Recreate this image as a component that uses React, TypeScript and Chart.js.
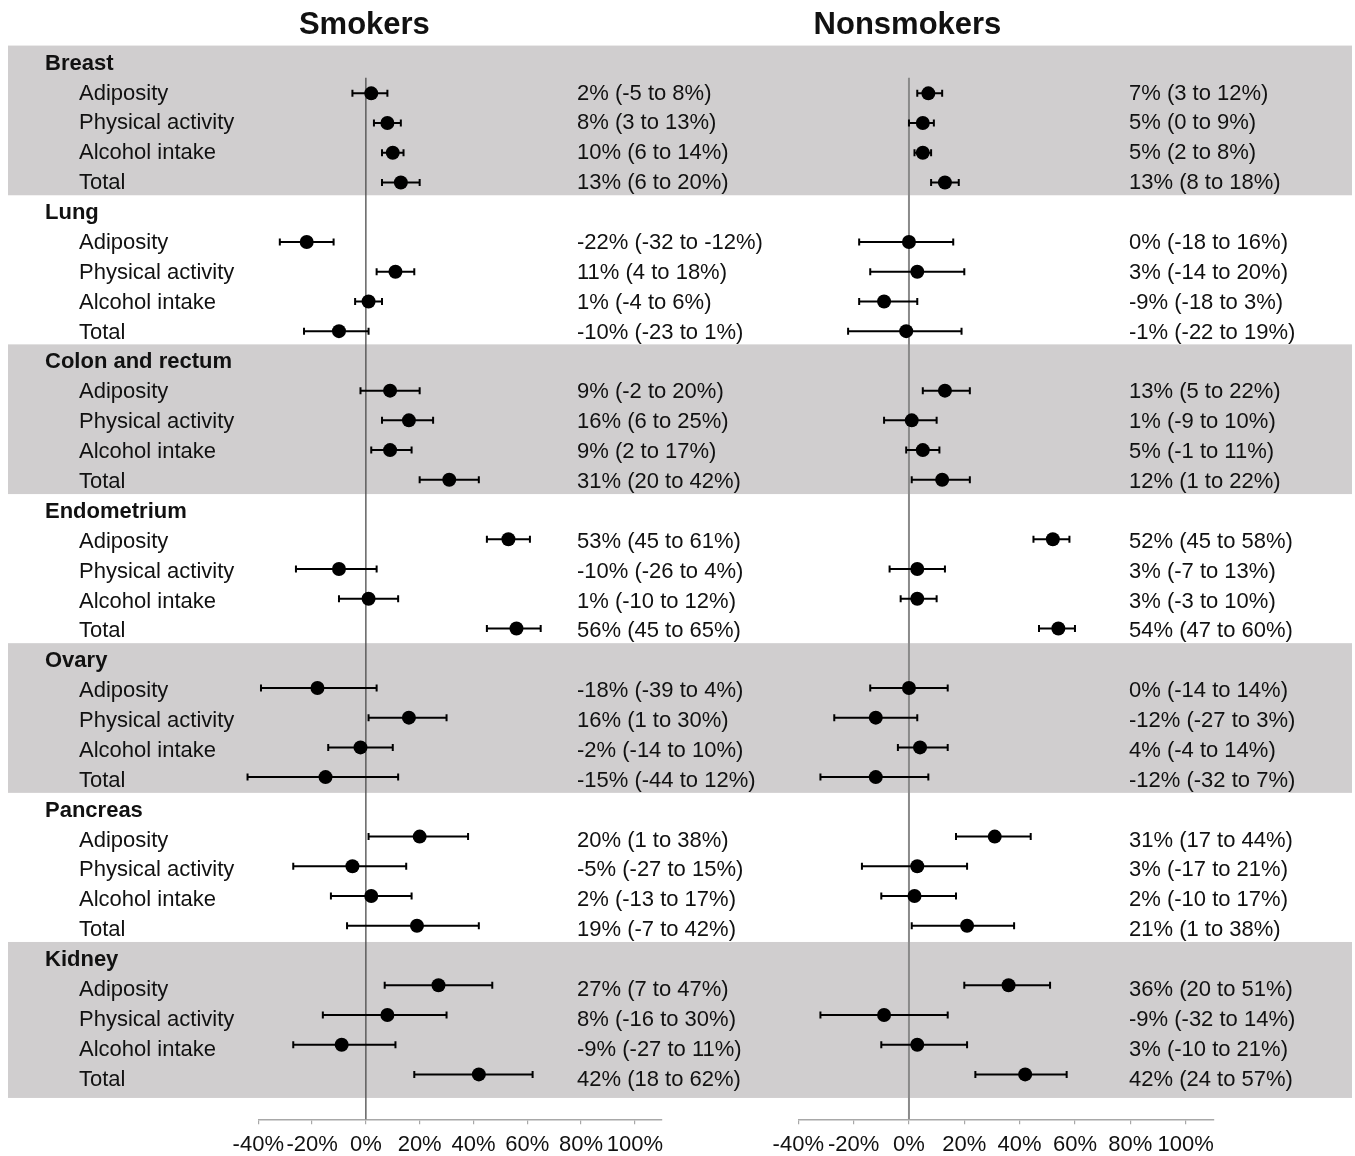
import React, { useEffect, useRef } from 'react';
import { Chart, registerables } from 'chart.js';

Chart.register(...registerables);

// ---------- data ----------
const groups = ['Breast', 'Lung', 'Colon and rectum', 'Endometrium', 'Ovary', 'Pancreas', 'Kidney'];
const factors = ['Adiposity', 'Physical activity', 'Alcohol intake', 'Total'];

const smokersEst = [2, 8, 10, 13, -22, 11, 1, -10, 9, 16, 9, 31, 53, -10, 1, 56, -18, 16, -2, -15, 20, -5, 2, 19, 27, 8, -9, 42];
const smokersLo = [-5, 3, 6, 6, -32, 4, -4, -23, -2, 6, 2, 20, 45, -26, -10, 45, -39, 1, -14, -44, 1, -27, -13, -7, 7, -16, -27, 18];
const smokersHi = [8, 13, 14, 20, -12, 18, 6, 1, 20, 25, 17, 42, 61, 4, 12, 65, 4, 30, 10, 12, 38, 15, 17, 42, 47, 30, 11, 62];

const nonsmokersEst = [7, 5, 5, 13, 0, 3, -9, -1, 13, 1, 5, 12, 52, 3, 3, 54, 0, -12, 4, -12, 31, 3, 2, 21, 36, -9, 3, 42];
const nonsmokersLo = [3, 0, 2, 8, -18, -14, -18, -22, 5, -9, -1, 1, 45, -7, -3, 47, -14, -27, -4, -32, 17, -17, -10, 1, 20, -32, -10, 24];
const nonsmokersHi = [12, 9, 8, 18, 16, 20, 3, 19, 22, 10, 11, 22, 58, 13, 10, 60, 14, 3, 14, 7, 44, 21, 17, 38, 51, 14, 21, 57];

const xTicks = [-40, -20, 0, 20, 40, 60, 80, 100];
const xMin = -40;
const xMax = 110;

// ---------- layout constants ----------
const FONT = '"Liberation Sans", Arial, Helvetica, sans-serif';
const TEXT = '#111111';
const BAND = '#d0cecf';
const W = 1355;
const H = 1156;
const AXIS_Y = 1119.3;
const ROW0 = 63.6;
const PITCH = 29.73;
const TEXT_ROW0 = 62;
const TEXT_PITCH = 29.88;
const TEXT_NUDGE = 1.6;
const yMin = -ROW0 / PITCH;
const yMax = yMin + AXIS_Y / PITCH;

const rowOf = (i: number) => Math.floor(i / 4) * 5 + (i % 4) + 1;
// row position for text and bands (slightly different pitch than the marks)
const textRow = (r: number) => (TEXT_ROW0 + r * TEXT_PITCH - ROW0) / PITCH;

type PanelCfg = {
  key: string;
  title: string;
  est: number[];
  lo: number[];
  hi: number[];
  areaLeft: number;
  areaRight: number;
  textX: number;
  zeroColor: string;
  zeroWidth: number;
  background: boolean;
};

function makePlugin(cfg: PanelCfg) {
  return {
    id: 'panel_' + cfg.key,
    beforeDraw(chart: any) {
      if (!cfg.background) return;
      const ctx = chart.ctx;
      const y = chart.scales.y;
      ctx.save();
      ctx.fillStyle = BAND;
      groups.forEach((_g, gi) => {
        if (gi % 2) return;
        const top = y.getPixelForValue(textRow(gi * 5 - 0.55));
        const botRow = gi === groups.length - 1 ? 34.67 : gi * 5 + 4.46;
        const bot = y.getPixelForValue(textRow(botRow));
        ctx.fillRect(8, top, 1352 - 8, bot - top);
      });
      ctx.fillStyle = TEXT;
      ctx.textBaseline = 'middle';
      ctx.textAlign = 'left';
      groups.forEach((g, gi) => {
        ctx.font = `bold 22px ${FONT}`;
        ctx.fillText(g, 45, y.getPixelForValue(textRow(gi * 5)) + TEXT_NUDGE);
        ctx.font = `22px ${FONT}`;
        factors.forEach((f, fi) => {
          ctx.fillText(f, 79, y.getPixelForValue(textRow(gi * 5 + fi + 1)) + TEXT_NUDGE);
        });
      });
      ctx.restore();
    },
    beforeDatasetsDraw(chart: any) {
      const ctx = chart.ctx;
      const x = chart.scales.x;
      const y = chart.scales.y;
      ctx.save();
      const zx = x.getPixelForValue(0);
      ctx.strokeStyle = cfg.zeroColor;
      ctx.lineWidth = cfg.zeroWidth;
      ctx.beginPath();
      ctx.moveTo(zx, y.getPixelForValue(0.48));
      ctx.lineTo(zx, chart.chartArea.bottom);
      ctx.stroke();
      ctx.strokeStyle = '#000';
      ctx.lineWidth = 2;
      cfg.est.forEach((_e, i) => {
        const py = y.getPixelForValue(rowOf(i));
        const x1 = x.getPixelForValue(cfg.lo[i]);
        const x2 = x.getPixelForValue(cfg.hi[i]);
        ctx.beginPath();
        ctx.moveTo(x1, py);
        ctx.lineTo(x2, py);
        ctx.moveTo(x1, py - 3.5);
        ctx.lineTo(x1, py + 3.5);
        ctx.moveTo(x2, py - 3.5);
        ctx.lineTo(x2, py + 3.5);
        ctx.stroke();
      });
      ctx.restore();
    },
    afterDraw(chart: any) {
      const ctx = chart.ctx;
      const x = chart.scales.x;
      const y = chart.scales.y;
      ctx.save();
      ctx.fillStyle = TEXT;
      ctx.textBaseline = 'middle';
      ctx.textAlign = 'center';
      ctx.font = `bold 31px ${FONT}`;
      ctx.fillText(cfg.title, x.getPixelForValue(0) - 1.5, 25.5);
      ctx.textAlign = 'left';
      ctx.font = `22px ${FONT}`;
      cfg.est.forEach((e, i) => {
        const py = y.getPixelForValue(textRow(rowOf(i))) + TEXT_NUDGE;
        ctx.fillText(`${e}% (${cfg.lo[i]} to ${cfg.hi[i]}%)`, cfg.textX, py);
      });
      ctx.restore();
    },
  };
}

function Panel({ cfg }: { cfg: PanelCfg }) {
  const ref = useRef<HTMLCanvasElement | null>(null);
  useEffect(() => {
    if (!ref.current) return;
    const data = cfg.est.map((e, i) => ({ x: e, y: rowOf(i) }));
    const chart = new Chart(ref.current, {
      type: 'scatter',
      data: {
        datasets: [
          {
            data,
            pointRadius: 7,
            pointHoverRadius: 7,
            pointBackgroundColor: '#000',
            pointBorderColor: '#000',
            pointBorderWidth: 0,
            showLine: false,
          },
        ],
      },
      options: {
        animation: false,
        responsive: false,
        maintainAspectRatio: false,
        devicePixelRatio: 1,
        events: [],
        layout: {
          autoPadding: false,
          padding: {
            left: cfg.areaLeft,
            right: W - cfg.areaRight,
            top: 0,
            bottom: 0,
          },
        },
        plugins: { legend: { display: false }, tooltip: { enabled: false }, title: { display: false } },
        scales: {
          x: {
            type: 'linear',
            position: 'bottom',
            min: xMin,
            max: xMax,
            afterBuildTicks: (s: any) => {
              s.ticks = xTicks.map((v) => ({ value: v }));
            },
            afterFit: (s: any) => {
              s.height = H - AXIS_Y;
            },
            grid: {
              display: true,
              drawOnChartArea: false,
              drawTicks: true,
              tickLength: 5,
              color: '#a8a8a8',
              lineWidth: 1.2,
            },
            border: { display: true, color: '#a8a8a8', width: 1.5 },
            ticks: {
              color: TEXT,
              font: { family: FONT, size: 22 },
              padding: 7,
              maxRotation: 0,
              autoSkip: false,
              callback: (v: any) => `${v}%`,
            },
          },
          y: {
            type: 'linear',
            display: false,
            reverse: true,
            min: yMin,
            max: yMax,
          },
        },
      },
      plugins: [makePlugin(cfg)],
    } as any);
    return () => chart.destroy();
  }, [cfg]);
  return (
    <canvas
      ref={ref}
      width={W}
      height={H}
      style={{ position: 'absolute', left: 0, top: 0, width: W, height: H, display: 'block' }}
    />
  );
}

const smokersCfg: PanelCfg = {
  key: 'smokers',
  title: 'Smokers',
  est: smokersEst,
  lo: smokersLo,
  hi: smokersHi,
  areaLeft: 258.3,
  areaRight: 661.7,
  textX: 577,
  zeroColor: '#4a4a4a',
  zeroWidth: 1.3,
  background: true,
};

const nonsmokersCfg: PanelCfg = {
  key: 'nonsmokers',
  title: 'Nonsmokers',
  est: nonsmokersEst,
  lo: nonsmokersLo,
  hi: nonsmokersHi,
  areaLeft: 798.3,
  areaRight: 1213.3,
  textX: 1129,
  zeroColor: '#8a8a8a',
  zeroWidth: 2,
  background: false,
};

export default function App() {
  return (
    <div style={{ position: 'absolute', left: 0, top: 0, width: W, height: H, background: '#fff', overflow: 'hidden' }}>
      <Panel cfg={smokersCfg} />
      <Panel cfg={nonsmokersCfg} />
    </div>
  );
}
